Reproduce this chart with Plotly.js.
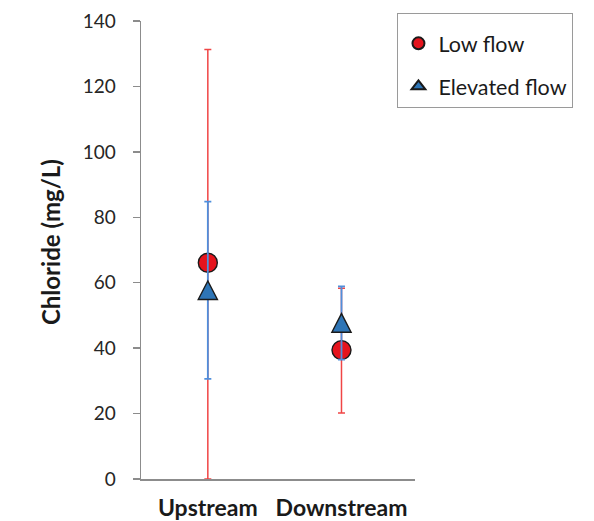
<!DOCTYPE html>
<html>
<head>
<meta charset="utf-8">
<script src="https://cdn.plot.ly/plotly-3.0.1.min.js"></script>
<style>
  html, body { margin: 0; padding: 0; background: #fff; }
  #chart { width: 594px; height: 521px; }
</style>
</head>
<body>
<div id="chart"></div>
<script>
// Chloride concentration by site and flow condition (mean with spread)
const sites = ['Upstream', 'Downstream'];

const lowFlow = [66.1, 39.4];
const lowFlowErrUp = [65.2, 18.9];
const lowFlowErrDown = [66.1, 19.2];

const elevatedFlow = [57.7, 47.7];
const elevatedFlowErr = [27.1, 11.2];

const yTicks = [0, 20, 40, 60, 80, 100, 120, 140];

const font = 'Lato, "Open Sans", sans-serif';
const axisGrey = '#8c8c8c';

const lowTrace = {
  x: sites, y: lowFlow, type: 'scatter', mode: 'markers', name: 'Low flow',
  legendgroup: 'low',
  marker: { symbol: 'circle', size: 19, color: '#e5141d', line: { color: '#1a1a1a', width: 1.4 } },
  error_y: { type: 'data', symmetric: false, array: lowFlowErrUp, arrayminus: lowFlowErrDown,
             color: '#f04545', thickness: 1.5, width: 3.5 }
};

// Error bars for the elevated-flow series; its triangles are drawn as shapes below
const elevatedBars = {
  x: sites, y: elevatedFlow, type: 'scatter', mode: 'markers', showlegend: false,
  hoverinfo: 'skip',
  marker: { size: 1, opacity: 0 },
  error_y: { type: 'data', array: elevatedFlowErr, color: '#4f8fdc', thickness: 1.8, width: 3.5 }
};

// Legend entry for the elevated-flow series
const elevatedKey = {
  x: [null], y: [null], type: 'scatter', mode: 'markers', name: 'Elevated flow',
  legendgroup: 'elev',
  marker: { symbol: 'triangle-up', size: 14, color: '#2e75b6', line: { color: '#1a1a1a', width: 1.2 } }
};

// Tall triangle markers anchored at each elevated-flow value
const triangles = sites.map((s, i) => ({
  type: 'path', xref: 'x', yref: 'y', xsizemode: 'pixel', ysizemode: 'pixel',
  xanchor: s, yanchor: elevatedFlow[i],
  path: 'M -9.6 -9.3 L 9.6 -9.3 L 0 9.3 Z',
  fillcolor: '#2e75b6', line: { color: '#1a1a1a', width: 1.4 }, layer: 'above'
}));

const layout = {
  width: 594, height: 521,
  margin: { l: 141, r: 179, t: 21, b: 42 },
  paper_bgcolor: '#fff', plot_bgcolor: '#fff',
  font: { family: font, color: '#262626', size: 18 },
  showlegend: true,
  legend: {
    x: 0.936, y: 1.018, xanchor: 'left', yanchor: 'top',
    bordercolor: '#9a9a9a', borderwidth: 1, bgcolor: '#fff',
    font: { family: font, size: 21.5, color: '#1a1a1a' },
    // a blank, small title gives the box its extra top padding
    title: { text: ' ', font: { size: 7 } },
    traceorder: 'grouped', tracegroupgap: 12, itemsizing: 'constant', itemwidth: 30
  },
  xaxis: {
    type: 'category', range: [-0.5, 1.55], showgrid: false, zeroline: false,
    showline: true, linecolor: axisGrey, linewidth: 1.5, ticks: '',
    tickfont: { family: font, size: 23, color: '#1a1a1a', weight: 'bold' },
    ticklabelstandoff: 8, fixedrange: true
  },
  yaxis: {
    range: [0, 140], tickvals: yTicks, showgrid: false, zeroline: false,
    showline: true, linecolor: axisGrey, linewidth: 1.5,
    ticks: 'outside', ticklen: 7, tickwidth: 1.5, tickcolor: axisGrey,
    tickfont: { family: font, size: 19, color: '#262626' }, ticklabelstandoff: 13,
    automargin: false, fixedrange: true
  },
  annotations: [{
    text: 'Chloride (mg/L)', textangle: -90, showarrow: false,
    xref: 'paper', yref: 'paper', x: -0.331, y: 0.518, xanchor: 'center', yanchor: 'middle',
    font: { family: font, size: 24, color: '#1a1a1a', weight: 'bold' }
  }],
  shapes: triangles
};

Plotly.newPlot('chart', [lowTrace, elevatedBars, elevatedKey], layout, { displayModeBar: false, staticPlot: true });
</script>
</body>
</html>
